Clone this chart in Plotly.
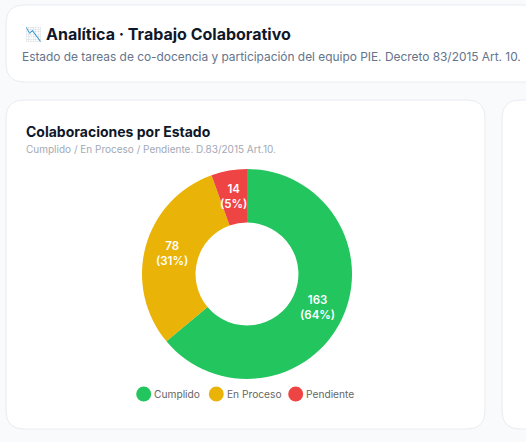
import math
import plotly.graph_objects as go

# data
estados = ["Cumplido", "En Proceso", "Pendiente"]
valores = [163, 78, 14]
porcentajes = [64, 31, 5]
colores = ["#22c55e", "#eab308", "#ef4444"]
legend_dot_x = [143.7, 216.3, 295.7]

W = 526
H = 442
FONT = "Inter"
CX = 247
CY = 274
R = 105
HOLE = 0.49

def px(x):
    return x / W

def py(y):
    return 1 - y / H

# rounded rectangle in paper coords, from pixel values
def card(x0, y0, x1, y1, r):
    path = (f"M {px(x0 + r)} {py(y0)} L {px(x1 - r)} {py(y0)} "
            f"Q {px(x1)} {py(y0)} {px(x1)} {py(y0 + r)} L {px(x1)} {py(y1 - r)} "
            f"Q {px(x1)} {py(y1)} {px(x1 - r)} {py(y1)} L {px(x0 + r)} {py(y1)} "
            f"Q {px(x0)} {py(y1)} {px(x0)} {py(y1 - r)} L {px(x0)} {py(y0 + r)} "
            f"Q {px(x0)} {py(y0)} {px(x0 + r)} {py(y0)} Z")
    return dict(type="path", xref="paper", yref="paper", path=path, fillcolor="white",
                line=dict(color="#e8ecf1", width=1), layer="below")

def label(x, y, text, size, color, bold=False):
    txt = f"<b>{text}</b>" if bold else text
    return dict(x=px(x - 2), y=py(y), xref="paper", yref="paper", text=txt, showarrow=False,
                xanchor="left", yanchor="middle", font=dict(family=FONT, size=size, color=color))

fig = go.Figure(go.Pie(
    labels=estados,
    values=valores,
    textinfo="none",
    hole=HOLE,
    sort=False,
    direction="clockwise",
    marker=dict(colors=colores, line=dict(width=0)),
    domain=dict(x=[px(CX - R), px(CX + R)], y=[py(CY + R), py(CY - R)]),
    showlegend=False,
))

shapes = [
    card(6, 5, 560, 82, 18),
    card(6, 100, 485, 429, 18),
    card(502, 100, 700, 429, 18),
]
annotations = [
    label(25, 34, "📉", 13.5, "#d6478a"),
    label(46, 34, "Analítica · Trabajo Colaborativo", 16, "#0f172a", True),
    label(22, 57, "Estado de tareas de co-docencia y participación del equipo PIE. Decreto 83/2015 Art. 10.", 11.9, "#64748b"),
    label(26, 131, "Colaboraciones por Estado", 14, "#0f172a", True),
    label(26, 149, "Cumplido / En Proceso / Pendiente. D.83/2015 Art.10.", 10, "#a3a9b5"),
]

# slice labels sit at the middle of the ring, so the small slice keeps its size
acum = 0
total = sum(valores)
radio_medio = R * (1 + HOLE) / 2
for v, p in zip(valores, porcentajes):
    ang = 2 * math.pi * (acum + v / 2) / total
    acum += v
    annotations.append(dict(
        x=px(CX + radio_medio * math.sin(ang)), y=py(CY - radio_medio * math.cos(ang)),
        xref="paper", yref="paper", text=f"{v}<br>({p}%)", showarrow=False,
        xanchor="center", yanchor="middle", align="center",
        font=dict(family=FONT, size=11.5, color="white", weight=600),
    ))

for nombre, color, x in zip(estados, colores, legend_dot_x):
    shapes.append(dict(type="circle", xref="paper", yref="paper", fillcolor=color, line=dict(width=0),
                       x0=px(x - 7.5), x1=px(x + 7.5), y0=py(394 + 7.5), y1=py(394 - 7.5)))
    annotations.append(label(x + 10.5, 393.5, nombre, 10.2, "#666666"))

fig.update_layout(
    width=W,
    height=H,
    margin=dict(l=0, r=0, t=0, b=0),
    paper_bgcolor="#f8fafc",
    plot_bgcolor="#f8fafc",
    shapes=shapes,
    annotations=annotations,
)

fig.write_html("out.html", config=dict(displayModeBar=False),
               post_script="document.body.style.margin='0';document.body.style.overflow='hidden';")
